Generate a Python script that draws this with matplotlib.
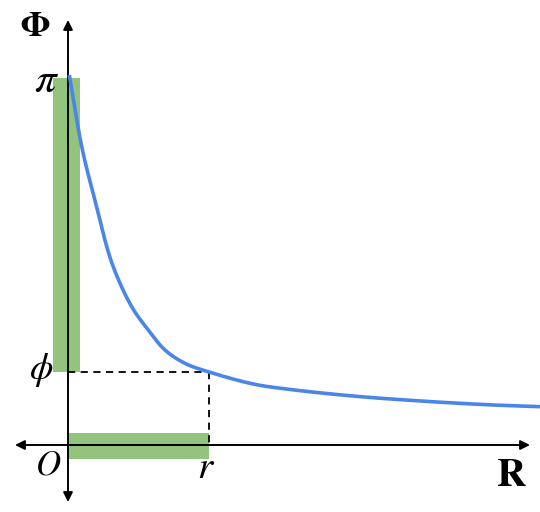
import numpy as np
import matplotlib
matplotlib.use("Agg")
import matplotlib.pyplot as plt

plt.rcParams['mathtext.fontset'] = 'stix'
plt.rcParams['font.family'] = ['Liberation Serif', 'DejaVu Serif']

# curve Phi(R)
R_vals = [0.013, 0.14, 0.273, 0.44, 0.637, 0.803, 0.97, 1.17, 1.41,
          1.853, 2.187, 2.853, 3.52, 4.187, 4.72]
Phi_vals = [3.167, 2.543, 2.083, 1.555, 1.184, 0.984, 0.813, 0.699, 0.625,
            0.522, 0.479, 0.419, 0.377, 0.345, 0.328]

PI = np.pi
phi_val = 0.625   # marked phi level
r_val = 1.41      # marked r position


def catmull_rom(x, y, n=30):
    """Smooth drawing path through the read points (centripetal Catmull-Rom)."""
    P = np.column_stack([x, y]).astype(float)
    P = np.vstack([2 * P[0] - P[1], P, 2 * P[-1] - P[-2]])
    out = []
    for i in range(1, len(P) - 2):
        p0, p1, p2, p3 = P[i - 1], P[i], P[i + 1], P[i + 2]
        t0 = 0.0
        t1 = t0 + np.linalg.norm(p1 - p0) ** 0.5
        t2 = t1 + np.linalg.norm(p2 - p1) ** 0.5
        t3 = t2 + np.linalg.norm(p3 - p2) ** 0.5
        t = np.linspace(t1, t2, n)[:, None]
        A1 = (t1 - t) / (t1 - t0) * p0 + (t - t0) / (t1 - t0) * p1
        A2 = (t2 - t) / (t2 - t1) * p1 + (t - t1) / (t2 - t1) * p2
        A3 = (t3 - t) / (t3 - t2) * p2 + (t - t2) / (t3 - t2) * p3
        B1 = (t2 - t) / (t2 - t0) * A1 + (t - t0) / (t2 - t0) * A2
        B2 = (t3 - t) / (t3 - t1) * A2 + (t - t1) / (t3 - t1) * A3
        C = (t2 - t) / (t2 - t1) * B1 + (t - t1) / (t2 - t1) * B2
        out.append(C if i == 1 else C[1:])
    C = np.vstack(out)
    return C[:, 0], C[:, 1]


W, H = 540, 512
fig = plt.figure(figsize=(W / 100, H / 100), dpi=100)
ax = fig.add_axes([0, 0, 1, 1])
k = PI / 367.0
ax.set_xlim(-0.68, 4.72)
ax.set_ylim(-67 * k, 445 * k)
ax.axis('off')

green = '#93c47d'
blue = '#4a86e8'

# green bars
ax.add_patch(plt.Rectangle((-0.15, phi_val), 0.27, PI - phi_val, color=green, lw=0, zorder=1))
ax.add_patch(plt.Rectangle((0.01, -14 * k), r_val - 0.01, 26 * k, color=green, lw=0, zorder=1))

# axes with arrows
arr = dict(arrowstyle='-|>', color='black', lw=1.4, mutation_scale=14, shrinkA=0, shrinkB=0)
ax.annotate('', xy=(0, 425 * k), xytext=(0, 0), arrowprops=arr, zorder=3)
ax.annotate('', xy=(0, -57 * k), xytext=(0, 0), arrowprops=arr, zorder=3)
ax.annotate('', xy=(4.62, 0), xytext=(0, 0), arrowprops=arr, zorder=3)
ax.annotate('', xy=(-0.53, 0), xytext=(0, 0), arrowprops=arr, zorder=3)

# dashed guides
ax.plot([0, r_val], [phi_val, phi_val], color='black', lw=1.3, ls=(0, (4, 3)), zorder=2)
ax.plot([r_val, r_val], [phi_val, 0], color='black', lw=1.3, ls=(0, (4, 3)), zorder=2)

# curve
sx, sy = catmull_rom(R_vals, Phi_vals)
ax.plot(sx, sy, color=blue, lw=2.6, zorder=4, solid_capstyle='butt')


def px(x, y):
    return x / W, 1 - y / H


kw = dict(transform=fig.transFigure, ha='center', va='center', color='black')
fig.text(*px(35, 27), r'$\mathbf{\Phi}$', fontsize=25, **kw)
fig.text(*px(47, 82), r'$\pi$', fontsize=31, **kw)
fig.text(*px(41, 370), r'$\phi$', fontsize=27, **kw)
fig.text(*px(48, 466), r'$O$', fontsize=25, **kw)
fig.text(*px(206, 468), r'$r$', fontsize=28, **kw)
fig.text(*px(511, 477), r'$\mathbf{R}$', fontsize=29, **kw)

fig.savefig('out.png', dpi=100)
